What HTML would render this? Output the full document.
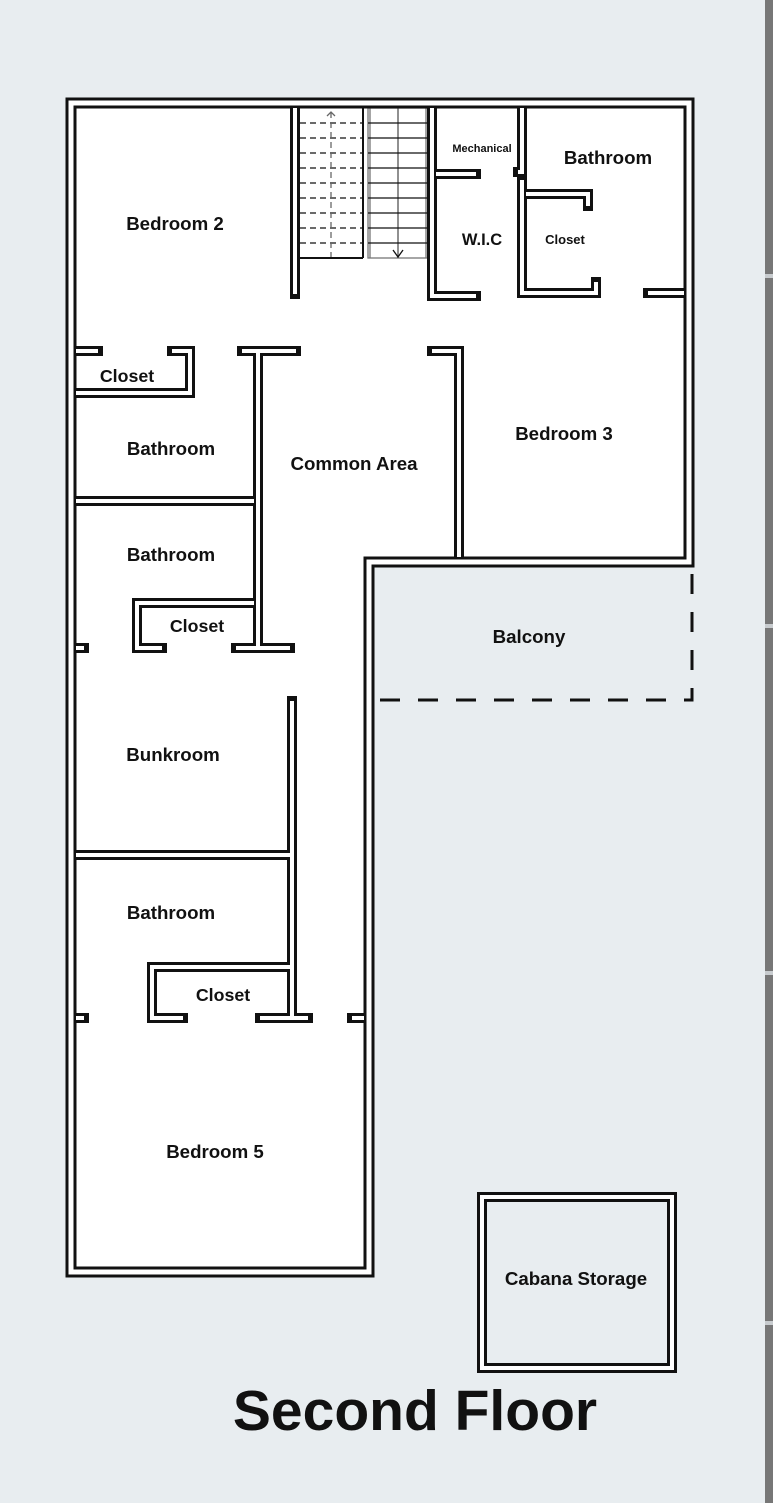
<!DOCTYPE html>
<html><head><meta charset="utf-8"><style>
html,body{margin:0;padding:0;background:#e8edf0;}
svg{display:block;}
text{font-family:"Liberation Sans",Arial,sans-serif;font-weight:bold;fill:#111;}
</style></head><body>
<svg width="773" height="1503" viewBox="0 0 773 1503" xmlns="http://www.w3.org/2000/svg">
<rect width="773" height="1503" fill="#e8edf0"/>
<rect x="765" y="0" width="8" height="1503" fill="#777"/>
<rect x="765" y="274" width="8" height="4" fill="#c8cccf"/>
<rect x="765" y="624" width="8" height="4" fill="#c8cccf"/>
<rect x="765" y="971" width="8" height="4" fill="#c8cccf"/>
<rect x="765" y="1321" width="8" height="4" fill="#c8cccf"/>

<path d="M71,103 H689 V562 H369 V1272 H71 Z" fill="#fff"/>

<g stroke="#111" stroke-width="1.3" fill="none">
  <g stroke-dasharray="6,4">
    <line x1="300" y1="123" x2="363" y2="123"/><line x1="300" y1="138" x2="363" y2="138"/>
    <line x1="300" y1="153" x2="363" y2="153"/><line x1="300" y1="168" x2="363" y2="168"/>
    <line x1="300" y1="183" x2="363" y2="183"/><line x1="300" y1="198" x2="363" y2="198"/>
    <line x1="300" y1="213" x2="363" y2="213"/><line x1="300" y1="228" x2="363" y2="228"/>
    <line x1="300" y1="243" x2="363" y2="243"/>
    <line x1="331" y1="112" x2="331" y2="258" stroke="#666"/>
  </g>
  <line x1="300" y1="258" x2="363" y2="258" stroke-width="2"/>
  <line x1="363" y1="108" x2="363" y2="258" stroke-width="2"/>
  <polyline points="327,116 331,112 335,116" stroke="#666"/>
  <rect x="368" y="108" width="60" height="150" stroke="#777"/>
  <line x1="370" y1="108" x2="370" y2="258" stroke="#777"/>
  <line x1="426" y1="108" x2="426" y2="258" stroke="#777"/>
  <line x1="398" y1="108" x2="398" y2="258" stroke="#555"/>
  <line x1="368" y1="123" x2="428" y2="123"/><line x1="368" y1="138" x2="428" y2="138"/>
  <line x1="368" y1="153" x2="428" y2="153"/><line x1="368" y1="168" x2="428" y2="168"/>
  <line x1="368" y1="183" x2="428" y2="183"/><line x1="368" y1="198" x2="428" y2="198"/>
  <line x1="368" y1="213" x2="428" y2="213"/><line x1="368" y1="228" x2="428" y2="228"/>
  <line x1="368" y1="243" x2="428" y2="243"/>
  <polyline points="393,250 398,257 403,250"/>
</g>

<g fill="none" stroke-linejoin="miter">
<g stroke="#111" stroke-width="10" stroke-linecap="square">
  <path d="M71,103 H689 V562 H369 V1272 H71 Z" stroke-width="11"/>
  <path d="M295,108 V294"/>
  <path d="M432,108 V296 H476"/>
  <path d="M436,174 H476"/>
  <path d="M522,108 V172 H518 M522,180 V293 H596 V282"/>
  <path d="M526,194 H588 V206"/>
  <path d="M648,293 H684"/>
  <path d="M432,351 H459 V557"/>
  <path d="M76,351 H98"/>
  <path d="M172,351 H190 V393 H76"/>
  <path d="M242,351 H296"/>
  <path d="M258,351 V648 H290"/>
  <path d="M236,648 H258"/>
  <path d="M76,501 H254"/>
  <path d="M254,603 H137 V648 H162"/>
  <path d="M76,648 H84"/>
  <path d="M292,701 V1018 H308"/>
  <path d="M260,1018 H292"/>
  <path d="M76,855 H290"/>
  <path d="M290,967 H152 V1018 H183"/>
  <path d="M76,1018 H84"/>
  <path d="M352,1018 H364"/>
  <rect x="482" y="1197" width="190" height="171"/>
</g>
<g stroke="#fff" stroke-width="4" stroke-linecap="butt">
  <path d="M71,103 H689 V562 H369 V1272 H71 Z" stroke-width="5"/>
  <path d="M295,108 V294"/>
  <path d="M432,108 V296 H476"/>
  <path d="M436,174 H476"/>
  <path d="M522,108 V172 H518 M522,180 V293 H596 V282"/>
  <path d="M526,194 H588 V206"/>
  <path d="M648,293 H684"/>
  <path d="M432,351 H459 V557"/>
  <path d="M76,351 H98"/>
  <path d="M172,351 H190 V393 H76"/>
  <path d="M242,351 H296"/>
  <path d="M258,351 V648 H290"/>
  <path d="M236,648 H258"/>
  <path d="M76,501 H254"/>
  <path d="M254,603 H137 V648 H162"/>
  <path d="M76,648 H84"/>
  <path d="M292,701 V1018 H308"/>
  <path d="M260,1018 H292"/>
  <path d="M76,855 H290"/>
  <path d="M290,967 H152 V1018 H183"/>
  <path d="M76,1018 H84"/>
  <path d="M352,1018 H364"/>
  <rect x="482" y="1197" width="190" height="171"/>
</g>
</g>
<g stroke="#111" stroke-width="3" fill="none">
  <path d="M380,700 H692 V572" stroke-dasharray="20,18"/>
</g>

<g font-size="18.7" text-anchor="middle">
  <text x="175" y="230">Bedroom 2</text>
  <text x="127" y="382" font-size="17.8">Closet</text>
  <text x="171" y="455">Bathroom</text>
  <text x="354" y="470">Common Area</text>
  <text x="564" y="440">Bedroom 3</text>
  <text x="608" y="164">Bathroom</text>
  <text x="482" y="152" font-size="11">Mechanical</text>
  <text x="482" y="245" font-size="16.5">W.I.C</text>
  <text x="565" y="244" font-size="13">Closet</text>
  <text x="171" y="561">Bathroom</text>
  <text x="197" y="632" font-size="17.8">Closet</text>
  <text x="529" y="643">Balcony</text>
  <text x="173" y="761">Bunkroom</text>
  <text x="171" y="919">Bathroom</text>
  <text x="223" y="1001" font-size="17.8">Closet</text>
  <text x="215" y="1158">Bedroom 5</text>
  <text x="576" y="1285">Cabana Storage</text>
  <text x="415" y="1430" font-size="57">Second Floor</text>
</g>
</svg>
</body></html>
